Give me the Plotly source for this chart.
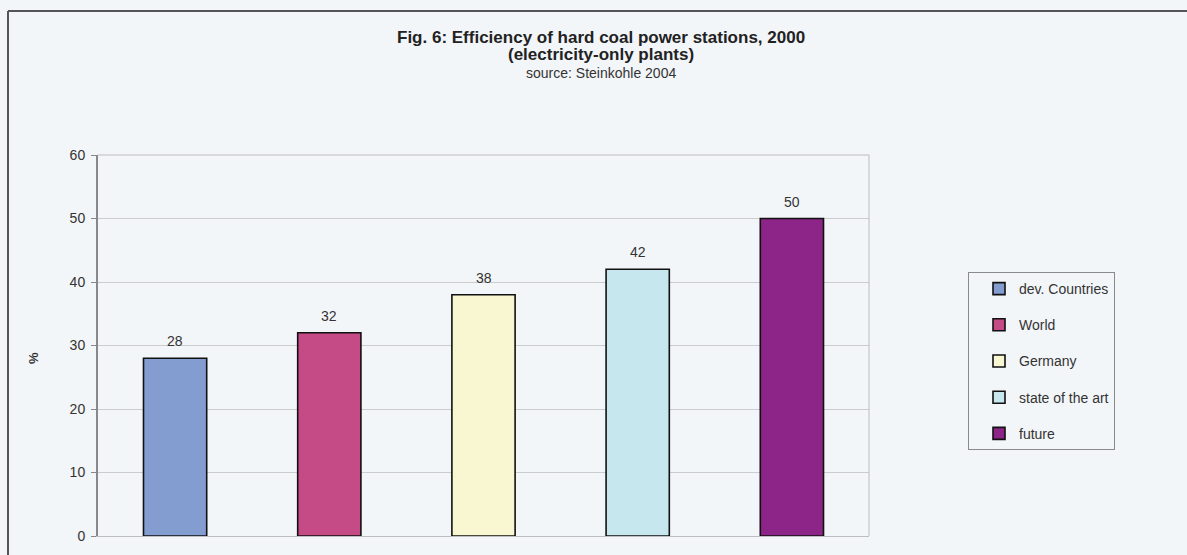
import plotly.graph_objects as go

categories = ["dev. Countries", "World", "Germany", "state of the art", "future"]
values = [28, 32, 38, 42, 50]
colors = ["#839dd0", "#c44b86", "#f9f7d2", "#c7e7ef", "#8c2587"]
y_ticks = [0, 10, 20, 30, 40, 50, 60]

W, H = 1187, 555
L, R, T, B = 98, 318, 155, 19
pw, ph = W - L - R, H - T - B

def px(x):
    return (x - L) / pw

def py(y):
    return (H - B - y) / ph

bg = "#f3f6f9"
FONT = "Liberation Sans, Arial"
fig = go.Figure()
for i, (c, v, col) in enumerate(zip(categories, values, colors)):
    fig.add_trace(go.Bar(
        x=[c], y=[v], name=c, marker=dict(color=col, line=dict(color="#111111", width=1.6)),
        width=0.41, legendgroup=str(i),
    ))
    fig.add_annotation(x=c, y=v, text=str(v), showarrow=False, yshift=17,
                       xanchor="center", yanchor="middle",
                       font=dict(family=FONT, size=14, color="#333333"))

fig.update_layout(
    width=W, height=H,
    margin=dict(l=L, r=R, t=T, b=B),
    paper_bgcolor=bg, plot_bgcolor=bg,
    barmode="overlay",
    font=dict(family=FONT, color="#333333"),
    showlegend=True,
    legend=dict(
        x=px(968), y=py(272), xanchor="left", yanchor="top",
        bgcolor=bg, bordercolor="#8a8a8a", borderwidth=1,
        font=dict(size=14, color="#333333"),
        tracegroupgap=15, traceorder="grouped",
        indentation=10,
    ),
    xaxis=dict(showticklabels=False, showgrid=False, ticks="", showline=True,
               linecolor="#bdbdbd", linewidth=1, mirror=False, fixedrange=True,
               categoryorder="array", categoryarray=categories),
    yaxis=dict(range=[0, 60], tickvals=y_ticks, showgrid=True, gridcolor="#cccccc",
               gridwidth=1, showline=True, linecolor="#888888", linewidth=2,
               ticks="outside", ticklen=5, tickcolor="#888888", ticklabelstandoff=3,
               tickfont=dict(size=14, color="#333333"), zeroline=False),
)

# plot border (top & right)
fig.add_shape(type="line", xref="paper", yref="paper", x0=0, x1=1, y0=1, y1=1,
              line=dict(color="#bbbbbb", width=1))
fig.add_shape(type="line", xref="paper", yref="paper", x0=1, x1=1, y0=0, y1=1,
              line=dict(color="#bbbbbb", width=1))

# outer frame (top & left)
fig.add_shape(type="line", xref="paper", yref="paper", x0=px(8), x1=px(1187), y0=py(11), y1=py(11),
              line=dict(color="#555555", width=2))
fig.add_shape(type="line", xref="paper", yref="paper", x0=px(8), x1=px(8), y0=py(11), y1=py(556),
              line=dict(color="#555555", width=2))

fig.add_annotation(xref="paper", yref="paper", x=px(601), y=py(37), showarrow=False,
                   text="<b>Fig. 6: Efficiency of hard coal power stations, 2000</b>",
                   font=dict(size=17, color="#222222"), xanchor="center", yanchor="middle")
fig.add_annotation(xref="paper", yref="paper", x=px(601), y=py(55), showarrow=False,
                   text="<b>(electricity-only plants)</b>",
                   font=dict(size=17, color="#222222"), xanchor="center", yanchor="middle")
fig.add_annotation(xref="paper", yref="paper", x=px(601), y=py(73), showarrow=False,
                   text="source: Steinkohle 2004",
                   font=dict(size=14, color="#333333"), xanchor="center", yanchor="middle")
fig.add_annotation(xref="paper", yref="paper", x=px(33), y=py(358), showarrow=False,
                   text="<b>%</b>", textangle=-90,
                   font=dict(size=13, color="#333333"), xanchor="center", yanchor="middle")

fig.write_html("out.html")
